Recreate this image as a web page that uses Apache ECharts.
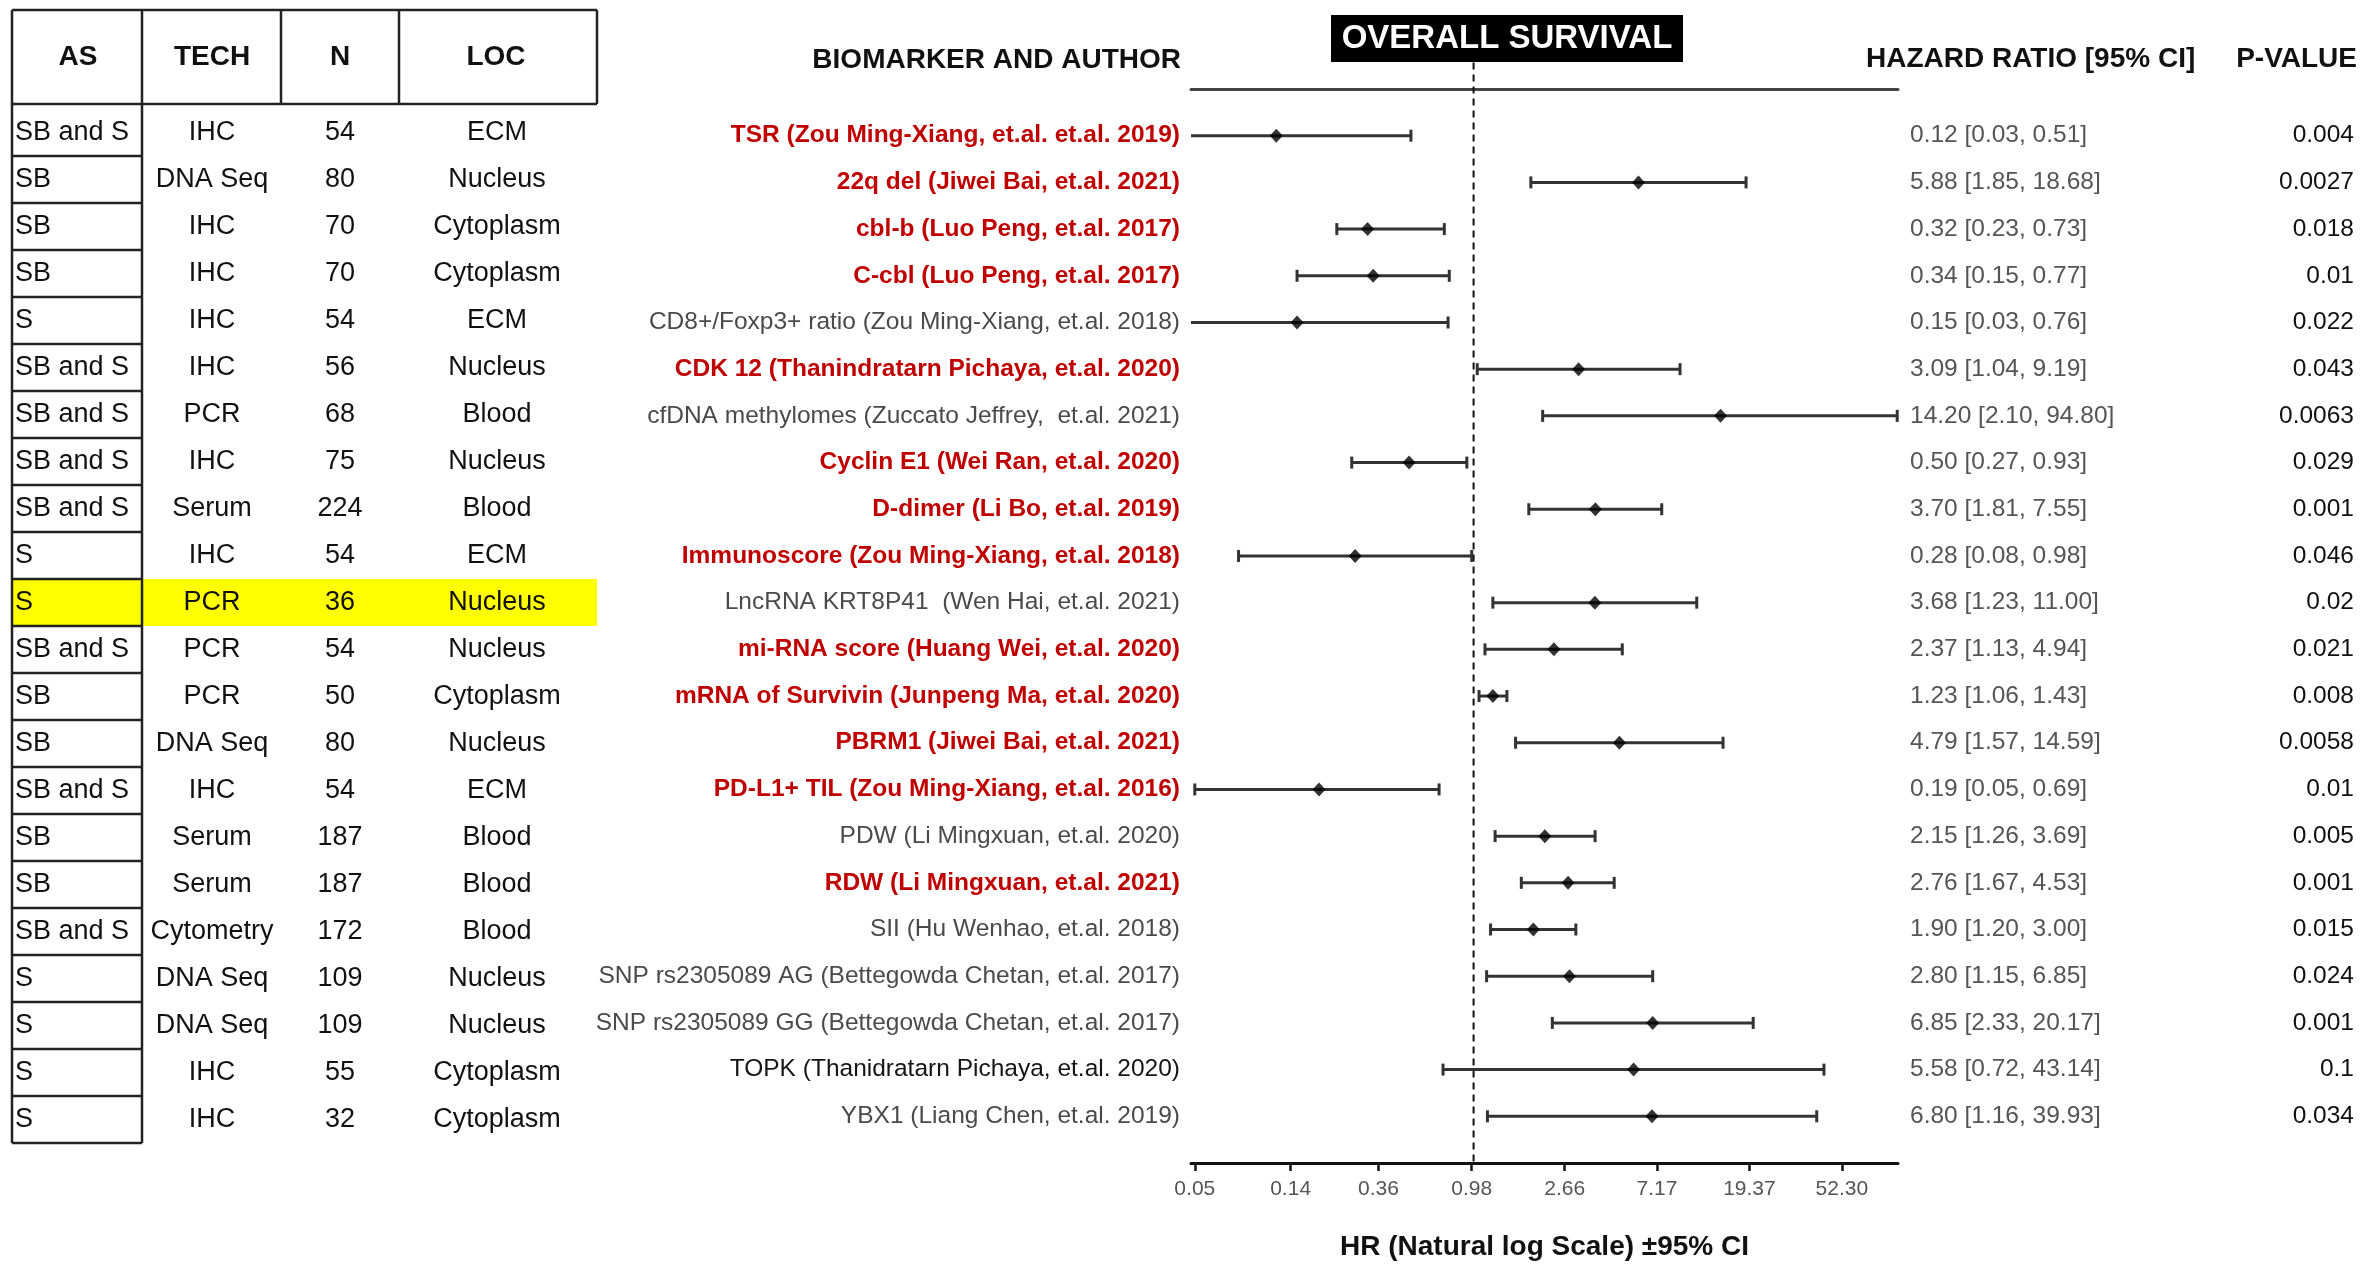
<!DOCTYPE html>
<html>
<head>
<meta charset="utf-8">
<title>Overall survival forest plot</title>
<script src="https://cdn.jsdelivr.net/npm/echarts@6/dist/echarts.min.js"></script>
<style>
  html, body { margin: 0; padding: 0; background: #fff; }
  #chart { width: 2362px; height: 1271px; }
</style>
</head>
<body>
<div id="chart"></div>
<script>
// Values, one entry per study row (top to bottom)
const AS_GROUP = ['SB and S', 'SB', 'SB', 'SB', 'S', 'SB and S', 'SB and S', 'SB and S', 'SB and S', 'S', 'S',
  'SB and S', 'SB', 'SB', 'SB and S', 'SB', 'SB', 'SB and S', 'S', 'S', 'S', 'S'];
const TECH = ['IHC', 'DNA Seq', 'IHC', 'IHC', 'IHC', 'IHC', 'PCR', 'IHC', 'Serum', 'IHC', 'PCR',
  'PCR', 'PCR', 'DNA Seq', 'IHC', 'Serum', 'Serum', 'Cytometry', 'DNA Seq', 'DNA Seq', 'IHC', 'IHC'];
const N_SIZE = [54, 80, 70, 70, 54, 56, 68, 75, 224, 54, 36, 54, 50, 80, 54, 187, 187, 172, 109, 109, 55, 32];
const LOC = ['ECM', 'Nucleus', 'Cytoplasm', 'Cytoplasm', 'ECM', 'Nucleus', 'Blood', 'Nucleus', 'Blood', 'ECM', 'Nucleus',
  'Nucleus', 'Cytoplasm', 'Nucleus', 'ECM', 'Blood', 'Blood', 'Blood', 'Nucleus', 'Nucleus', 'Cytoplasm', 'Cytoplasm'];

const BIOMARKERS = [
  'TSR (Zou Ming-Xiang, et.al. et.al. 2019)',
  '22q del (Jiwei Bai, et.al. 2021)',
  'cbl-b (Luo Peng, et.al. 2017)',
  'C-cbl (Luo Peng, et.al. 2017)',
  'CD8+/Foxp3+ ratio (Zou Ming-Xiang, et.al. 2018)',
  'CDK 12 (Thanindratarn Pichaya, et.al. 2020)',
  'cfDNA methylomes (Zuccato Jeffrey,  et.al. 2021)',
  'Cyclin E1 (Wei Ran, et.al. 2020)',
  'D-dimer (Li Bo, et.al. 2019)',
  'Immunoscore (Zou Ming-Xiang, et.al. 2018)',
  'LncRNA KRT8P41  (Wen Hai, et.al. 2021)',
  'mi-RNA score (Huang Wei, et.al. 2020)',
  'mRNA of Survivin (Junpeng Ma, et.al. 2020)',
  'PBRM1 (Jiwei Bai, et.al. 2021)',
  'PD-L1+ TIL (Zou Ming-Xiang, et.al. 2016)',
  'PDW (Li Mingxuan, et.al. 2020)',
  'RDW (Li Mingxuan, et.al. 2021)',
  'SII (Hu Wenhao, et.al. 2018)',
  'SNP rs2305089 AG (Bettegowda Chetan, et.al. 2017)',
  'SNP rs2305089 GG (Bettegowda Chetan, et.al. 2017)',
  'TOPK (Thanidratarn Pichaya, et.al. 2020)',
  'YBX1 (Liang Chen, et.al. 2019)'
];
// 'sig' = bold red label, 'plain' = grey label, 'dark' = near-black label
const LABEL_TONE = ['sig', 'sig', 'sig', 'sig', 'plain', 'sig', 'plain', 'sig', 'sig', 'sig', 'plain',
  'sig', 'sig', 'sig', 'sig', 'plain', 'sig', 'plain', 'plain', 'plain', 'dark', 'plain'];

const HR = [0.12, 5.88, 0.32, 0.34, 0.15, 3.09, 14.20, 0.50, 3.70, 0.28, 3.68,
  2.37, 1.23, 4.79, 0.19, 2.15, 2.76, 1.90, 2.80, 6.85, 5.58, 6.80];
const CI_LOW = [0.03, 1.85, 0.23, 0.15, 0.03, 1.04, 2.10, 0.27, 1.81, 0.08, 1.23,
  1.13, 1.06, 1.57, 0.05, 1.26, 1.67, 1.20, 1.15, 2.33, 0.72, 1.16];
const CI_HIGH = [0.51, 18.68, 0.73, 0.77, 0.76, 9.19, 94.80, 0.93, 7.55, 0.98, 11.00,
  4.94, 1.43, 14.59, 0.69, 3.69, 4.53, 3.00, 6.85, 20.17, 43.14, 39.93];
const P_VALUES = ['0.004', '0.0027', '0.018', '0.01', '0.022', '0.043', '0.0063', '0.029', '0.001', '0.046', '0.02',
  '0.021', '0.008', '0.0058', '0.01', '0.005', '0.001', '0.015', '0.024', '0.001', '0.1', '0.034'];

const TICK_VALUES = [0.05, 0.14, 0.36, 0.98, 2.66, 7.17, 19.37, 52.30];
const TICK_LABELS = ['0.05', '0.14', '0.36', '0.98', '2.66', '7.17', '19.37', '52.30'];
const TABLE_HEADERS = ['AS', 'TECH', 'N', 'LOC'];
const HIGHLIGHT_ROWS = [10];

// layout
const FONT = "'Liberation Sans', Arial, Helvetica, sans-serif";
const TABLE_EDGES = [12, 142, 281, 399, 597];   // x of table column borders
const TABLE_TEXT_X = [15, 212, 340, 497];        // AS is left aligned, the rest centred
const HEADER_X = [78, 212, 340, 496];
const HEAD_TOP = -2.606, HEAD_BOTTOM = -0.606, HEAD_TEXT = -1.606;  // in row units
const LABEL_RIGHT = 1180, HR_LEFT = 1910, P_RIGHT = 2354;
const REF_TOP = -1.57;   // dashed line starts under the title box
const LINE_COLOR = '#222';
const CI_COLOR = '#333';
const TONE_STYLE = {
  sig: {fill: '#c00000', fontWeight: 'bold'},
  plain: {fill: '#4a4a4a', fontWeight: 'normal'},
  dark: {fill: '#151515', fontWeight: 'normal'}
};

const rows = BIOMARKERS.map((_, i) => i);

function textEl(x, y, text, extra) {
  return {
    type: 'text',
    x: x,
    y: y,
    z2: 20,
    style: Object.assign({
      text: text,
      fontFamily: FONT,
      fontSize: 24,
      fill: '#111',
      align: 'left',
      verticalAlign: 'middle'
    }, extra)
  };
}

function lineEl(x1, y1, x2, y2, width) {
  return {
    type: 'line',
    z2: 10,
    shape: {x1: x1, y1: y1, x2: x2, y2: y2},
    style: {stroke: LINE_COLOR, lineWidth: width || 2.5}
  };
}

// table: highlight, borders and cell texts, all placed on the table row scale
function renderTableRow(params, api) {
  const i = params.dataIndex;
  const row = api.value(1);
  const y = (v) => api.coord([0, v])[1];
  const children = [];
  const bottom = y(row + 0.5);
  const top = i === 0 ? y(HEAD_BOTTOM) : y(row - 0.5);

  if (HIGHLIGHT_ROWS.indexOf(i) >= 0) {
    children.push({
      type: 'rect',
      z2: 0,
      shape: {x: TABLE_EDGES[0], y: top, width: TABLE_EDGES[4] - TABLE_EDGES[0], height: bottom - top},
      style: {fill: '#ffff00'}
    });
  }
  children.push(lineEl(TABLE_EDGES[0], bottom, TABLE_EDGES[1], bottom));

  const yc = y(row);
  children.push(textEl(TABLE_TEXT_X[0], yc, AS_GROUP[i], {fontSize: 27}));
  children.push(textEl(TABLE_TEXT_X[1], yc, TECH[i], {fontSize: 27, align: 'center'}));
  children.push(textEl(TABLE_TEXT_X[2], yc, String(N_SIZE[i]), {fontSize: 27, align: 'center'}));
  children.push(textEl(TABLE_TEXT_X[3], yc, LOC[i], {fontSize: 27, align: 'center'}));

  if (i === 0) {
    const hTop = y(HEAD_TOP), hBottom = y(HEAD_BOTTOM);
    const tableBottom = y(rows.length - 0.5);
    children.push(lineEl(TABLE_EDGES[0], hTop, TABLE_EDGES[4], hTop));
    children.push(lineEl(TABLE_EDGES[0], hBottom, TABLE_EDGES[4], hBottom));
    children.push(lineEl(TABLE_EDGES[0], hTop, TABLE_EDGES[0], tableBottom));
    children.push(lineEl(TABLE_EDGES[1], hTop, TABLE_EDGES[1], tableBottom));
    children.push(lineEl(TABLE_EDGES[2], hTop, TABLE_EDGES[2], hBottom));
    children.push(lineEl(TABLE_EDGES[3], hTop, TABLE_EDGES[3], hBottom));
    children.push(lineEl(TABLE_EDGES[4], hTop, TABLE_EDGES[4], hBottom));
    TABLE_HEADERS.forEach((h, k) => {
      children.push(textEl(HEADER_X[k], y(HEAD_TEXT), h, {fontSize: 28, fontWeight: 'bold', align: 'center'}));
    });
  }
  return {type: 'group', children: children};
}

// biomarker label, HR [95% CI] text and p-value, on the forest row scale
function renderRowText(params, api) {
  const i = params.dataIndex;
  const yc = api.coord([0, api.value(1)])[1];
  const hrText = HR[i].toFixed(2) + ' [' + CI_LOW[i].toFixed(2) + ', ' + CI_HIGH[i].toFixed(2) + ']';
  return {
    type: 'group',
    children: [
      textEl(LABEL_RIGHT, yc, BIOMARKERS[i], Object.assign({fontSize: 24.5, align: 'right'}, TONE_STYLE[LABEL_TONE[i]])),
      textEl(HR_LEFT, yc, hrText, {fill: '#555', fontSize: 24.5}),
      textEl(P_RIGHT, yc, P_VALUES[i], {align: 'right', fontSize: 24.5})
    ]
  };
}

// confidence interval whisker; ends outside the axis are cut without a cap
function renderInterval(params, api) {
  const cs = params.coordSys;
  const a = api.coord([api.value(0), api.value(2)]);
  const b = api.coord([api.value(1), api.value(2)]);
  const left = cs.x, right = cs.x + cs.width;
  const x1 = Math.max(a[0], left), x2 = Math.min(b[0], right);
  const y = a[1];
  const cap = 6;
  const style = {stroke: CI_COLOR, lineWidth: 3};
  const children = [{type: 'line', shape: {x1: x1, y1: y, x2: x2, y2: y}, style: style}];
  if (a[0] >= left - 0.5) children.push({type: 'line', shape: {x1: a[0], y1: y - cap, x2: a[0], y2: y + cap}, style: style});
  if (b[0] <= right + 0.5) children.push({type: 'line', shape: {x1: b[0], y1: y - cap, x2: b[0], y2: y + cap}, style: style});
  return {type: 'group', children: children};
}

function renderReference(params, api) {
  const p0 = api.coord([api.value(0), REF_TOP]);
  const p1 = api.coord([api.value(0), rows.length]);
  return {
    type: 'line',
    shape: {x1: p0[0], y1: p0[1], x2: p1[0], y2: p1[1]},
    style: {stroke: '#111', lineWidth: 2, lineDash: [7, 5]}
  };
}

const logTicks = TICK_VALUES.map(Math.log);
function tickLabel(v) {
  let best = 0;
  logTicks.forEach((t, k) => { if (Math.abs(t - v) < Math.abs(logTicks[best] - v)) best = k; });
  return TICK_LABELS[best];
}

const xMin = Math.log(0.048), xMax = Math.log(95.6);
const hiddenAxis = {show: false};

const option = {
  animation: false,
  backgroundColor: '#fff',
  grid: [
    {left: 1191, top: 89, width: 707, height: 1074},   // forest plot
    {left: 0, top: 85.5, width: 2362, height: 1081},   // table on the left
    {left: 0, top: 89, width: 2362, height: 1074}      // text columns
  ],
  xAxis: [
    {
      type: 'value', gridIndex: 0, min: xMin, max: xMax, position: 'bottom',
      name: 'HR (Natural log Scale) \u00b195% CI',
      nameLocation: 'middle', nameGap: 70,
      nameTextStyle: {fontFamily: FONT, fontSize: 28, fontWeight: 'bold', color: '#111'},
      axisLine: {onZero: false, lineStyle: {color: '#111', width: 3}},
      axisTick: {customValues: logTicks, length: 8, lineStyle: {color: '#111', width: 2.5}},
      axisLabel: {
        customValues: logTicks, formatter: tickLabel, margin: 16,
        fontFamily: FONT, fontSize: 21, color: '#555'
      },
      splitLine: {show: false}
    },
    {
      type: 'value', gridIndex: 0, min: xMin, max: xMax, position: 'top',
      axisLine: {onZero: false, lineStyle: {color: '#444', width: 3}},
      axisTick: {show: false}, axisLabel: {show: false}, splitLine: {show: false}
    },
    Object.assign({type: 'value', gridIndex: 1, min: 0, max: 2362}, hiddenAxis),
    Object.assign({type: 'value', gridIndex: 2, min: 0, max: 2362}, hiddenAxis)
  ],
  yAxis: [
    Object.assign({type: 'value', gridIndex: 0, min: -1, max: rows.length, inverse: true}, hiddenAxis),
    Object.assign({type: 'value', gridIndex: 1, min: -1, max: rows.length, inverse: true}, hiddenAxis),
    Object.assign({type: 'value', gridIndex: 2, min: -1, max: rows.length, inverse: true}, hiddenAxis)
  ],
  graphic: [
    {type: 'rect', left: 1331, top: 15, shape: {width: 352, height: 47}, style: {fill: '#000'}},
    {type: 'text', x: 1507, y: 39, style: {text: 'OVERALL SURVIVAL', fill: '#fff',
      font: 'bold 33px ' + FONT, align: 'center', verticalAlign: 'middle'}},
    {type: 'text', x: 1181, y: 60, style: {text: 'BIOMARKER AND AUTHOR', fill: '#111',
      font: 'bold 28px ' + FONT, align: 'right', verticalAlign: 'middle'}},
    {type: 'text', x: 1866, y: 59, style: {text: 'HAZARD RATIO [95% CI]', fill: '#111',
      font: 'bold 28px ' + FONT, align: 'left', verticalAlign: 'middle'}},
    {type: 'text', x: 2357, y: 59, style: {text: 'P-VALUE', fill: '#111',
      font: 'bold 28px ' + FONT, align: 'right', verticalAlign: 'middle'}}
  ],
  series: [
    {
      name: 'reference', type: 'custom', xAxisIndex: 0, yAxisIndex: 0, clip: false, z: 2,
      data: [[0, 0]], renderItem: renderReference, silent: true
    },
    {
      name: '95% CI', type: 'custom', xAxisIndex: 0, yAxisIndex: 0, z: 3,
      data: rows.map((i) => [Math.log(CI_LOW[i]), Math.log(CI_HIGH[i]), i]),
      renderItem: renderInterval
    },
    {
      name: 'HR', type: 'scatter', xAxisIndex: 0, yAxisIndex: 0, z: 4,
      symbol: 'diamond', symbolSize: [13, 14],
      itemStyle: {color: '#000'},
      data: rows.map((i) => [Math.log(HR[i]), i])
    },
    {
      name: 'table', type: 'custom', xAxisIndex: 2, yAxisIndex: 1, clip: false,
      data: rows.map((i) => [0, i]), renderItem: renderTableRow, silent: true
    },
    {
      name: 'text', type: 'custom', xAxisIndex: 3, yAxisIndex: 2, clip: false,
      data: rows.map((i) => [0, i]), renderItem: renderRowText, silent: true
    }
  ]
};

const chart = echarts.init(document.getElementById('chart'));
chart.setOption(option);
window.addEventListener('resize', () => chart.resize());
</script>
</body>
</html>
